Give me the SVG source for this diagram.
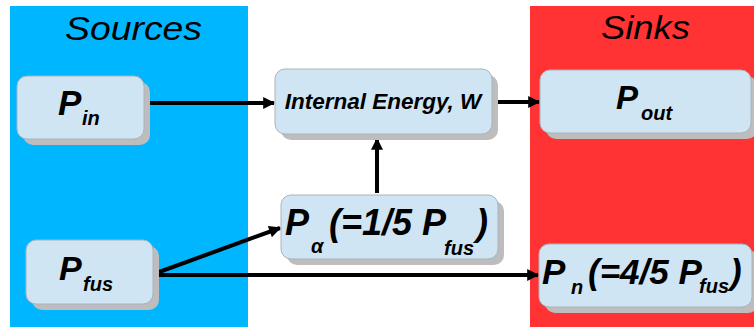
<svg xmlns="http://www.w3.org/2000/svg" width="754" height="327" viewBox="0 0 754 327">
<defs>
<style>
.box{fill:#cfe5f3;stroke:#a8b4bc;stroke-width:1}
.sh{fill:#bdbdbd}
.t{font-family:"Liberation Sans",Arial,sans-serif;font-style:italic;font-weight:bold;fill:#000}
.sub{font-size:20px}
.hd{font-family:"Liberation Sans",Arial,sans-serif;font-style:italic;font-size:34px;fill:#000}
.c{stroke:#000;stroke-width:4;fill:none;marker-end:url(#ah)}
</style>
<marker id="ah" viewBox="0 0 10 10" refX="9" refY="5" markerWidth="3.8" markerHeight="3" orient="auto" markerUnits="strokeWidth">
<path d="M0,0 L10,5 L0,10 z" fill="#000"/>
</marker>
</defs>
<rect width="754" height="327" fill="#fff"/>
<rect x="10" y="6" width="238" height="321" fill="#00b7ff"/>
<rect x="530" y="6" width="224" height="321" fill="#ff3333"/>
<text class="hd" x="65" y="40" textLength="137" lengthAdjust="spacingAndGlyphs">Sources</text>
<text class="hd" x="601" y="39" textLength="89" lengthAdjust="spacingAndGlyphs">Sinks</text>
<g id="connectors">
<line class="c" x1="149" y1="103" x2="274" y2="103"/>
<line class="c" x1="496" y1="102" x2="539" y2="102"/>
<line class="c" x1="377" y1="193" x2="377" y2="139"/>
<line class="c" x1="159" y1="272" x2="280" y2="228"/>
<line class="c" x1="159" y1="275" x2="538" y2="275"/>
</g>
<g id="p_in">
<rect class="sh" x="23" y="82" width="127" height="63" rx="10"/>
<rect class="box" x="17" y="76" width="127" height="63" rx="10"/>
<text class="t" font-size="35" x="58" y="115">P</text>
<text class="t sub" x="82" y="125">in</text>
</g>
<g id="internal_energy">
<rect class="sh" x="281" y="75" width="217" height="65" rx="10"/>
<rect class="box" x="275" y="69" width="217" height="65" rx="10"/>
<text class="t" font-size="22.5" x="383" y="109" text-anchor="middle">Internal Energy, W</text>
</g>
<g id="p_out">
<rect class="sh" x="546" y="76" width="211" height="63" rx="10"/>
<rect class="box" x="540" y="70" width="211" height="63" rx="10"/>
<text class="t" font-size="33" x="616" y="109">P</text>
<text class="t sub" x="641" y="120">out</text>
</g>
<g id="p_fus">
<rect class="sh" x="32" y="246" width="127" height="64" rx="10"/>
<rect class="box" x="26" y="240" width="127" height="64" rx="10"/>
<text class="t" font-size="34" x="59" y="280">P</text>
<text class="t sub" x="83" y="291">fus</text>
</g>
<g id="p_alpha">
<rect class="sh" x="287" y="201" width="217" height="64" rx="10"/>
<rect class="box" x="281" y="195" width="217" height="64" rx="10"/>
<text class="t" font-size="36" x="285" y="235">P</text>
<text class="t sub" x="311" y="253">α</text>
<text class="t" font-size="36" x="329" y="235">(=1/5 P</text>
<text class="t sub" x="444" y="255">fus</text>
<text class="t" font-size="36" x="476" y="235">)</text>
</g>
<g id="p_n">
<rect class="sh" x="545" y="250" width="213" height="63" rx="10"/>
<rect class="box" x="539" y="244" width="213" height="63" rx="10"/>
<text class="t" font-size="35" x="542" y="284">P</text>
<text class="t sub" x="571" y="294">n</text>
<text class="t" font-size="35" x="588" y="284">(=4/5 P</text>
<text class="t sub" x="699" y="293">fus</text>
<text class="t" font-size="35" x="730" y="284">)</text>
</g>
</svg>
